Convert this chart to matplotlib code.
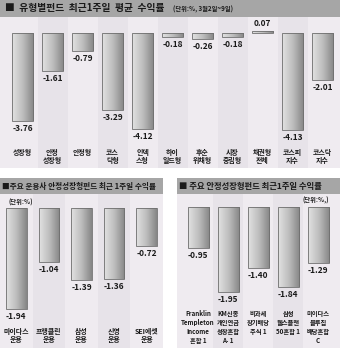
import numpy as np
import matplotlib
matplotlib.use("Agg")
import matplotlib.pyplot as plt

plt.rcParams['font.family'] = ['Noto Sans CJK KR', 'DejaVu Sans']

# ---------------------------------------------------------------
# data
# ---------------------------------------------------------------
type_labels = ["성장형", "안정\n성장형", "안정형", "코스\n닥형", "인덱\n스형", "하이\n일드형",
               "후순\n위채형", "시장\n중립형", "채권형\n전체", "코스피\n지수", "코스닥\n지수"]
type_values = [-3.76, -1.61, -0.79, -3.29, -4.12, -0.18, -0.26, -0.18, 0.07, -4.13, -2.01]

company_labels = ["마이다스\n운용", "프랭클린\n운용", "삼성\n운용", "신영\n운용", "SEI에셋\n운용"]
company_values = [-1.94, -1.04, -1.39, -1.36, -0.72]

fund_labels = ["Franklin\nTempleton\nIncome\n혼합 1", "KM신종\n개인연금\n성장혼합\nA- 1",
               "비과세\n장기배당\n주식 1", "삼성\n웰스플랜\n50혼합 1", "미이다스\n블루칩\n배당혼합\nC"]
fund_values = [-0.95, -1.95, -1.40, -1.84, -1.29]

W, H = 340, 348
HEADER = "#a6a6a6"
STRIPES = ["#efebf0", "#e7e3e9"]
TXT = "#1a1a1a"

fig = plt.figure(figsize=(W / 100, H / 100), dpi=100)
fig.patch.set_facecolor("white")


def px_axes(x0, y0, x1, y1):
    # pixel box (top-left origin) -> figure axes
    return fig.add_axes([x0 / W, 1 - y1 / H, (x1 - x0) / W, (y1 - y0) / H])


def header(x0, y0, x1, y1, title, size):
    hx = px_axes(x0, y0, x1, y1)
    hx.set_facecolor(HEADER)
    hx.set_xticks([])
    hx.set_yticks([])
    for s in hx.spines.values():
        s.set_visible(False)
    hx.text(0.015, 0.5, title, transform=hx.transAxes, va="center", ha="left",
            fontsize=size, fontweight="bold", color=TXT)
    return hx


grad = np.linspace(0, 1, 64).reshape(1, -1)
gray_cmap = matplotlib.colors.LinearSegmentedColormap.from_list("g", ["#e2e2e2", "#bdbdbd", "#868686"])


def panel(ax, values, labels, xlim, ylim, width, label_y, lab_size, lab_spacing):
    n = len(values)
    x = np.arange(n)
    ax.set_xlim(*xlim)
    ax.set_ylim(*ylim)
    # column stripes
    edges = [xlim[0]] + [i + 0.5 for i in range(n - 1)] + [xlim[1]]
    for i in range(n):
        ax.axvspan(edges[i], edges[i + 1], color=STRIPES[i % 2], lw=0, zorder=0)
    bars = ax.bar(x, values, width=width, color="none", edgecolor="#6e6e6e", lw=0.6, zorder=3)
    for b, v in zip(bars, values):
        bx, by = b.get_x(), b.get_y()
        bw, bh = b.get_width(), b.get_height()
        im = ax.imshow(grad, cmap=gray_cmap, aspect="auto", zorder=2,
                       extent=[bx, bx + bw, min(by, by + bh), max(by, by + bh)])
        im.set_clip_path(b)
        span = ylim[1] - ylim[0]
        if v < 0:
            ax.text(b.get_x() + bw / 2, v - span * 0.02, f"{v:.2f}", ha="center", va="top",
                    fontsize=6, fontweight="bold", color=TXT, zorder=4)
        else:
            ax.text(b.get_x() + bw / 2, v + span * 0.02, f"{v:.2f}", ha="center", va="bottom",
                    fontsize=6, fontweight="bold", color=TXT, zorder=4)
    for xi, lab in zip(x, labels):
        ax.text(xi, label_y, lab, ha="center", va="top", fontsize=lab_size,
                fontweight="bold", color=TXT, linespacing=lab_spacing, zorder=4)
    ax.set_xlim(*xlim)
    ax.set_ylim(*ylim)
    ax.set_xticks([])
    ax.set_yticks([])
    for s in ax.spines.values():
        s.set_visible(False)


# ---------------------------------------------------------------
# top panel
# ---------------------------------------------------------------
hx = header(0, 0, 340, 17, "■  유형별펀드  최근1주일  평균  수익률", 7)
hx.text(0.51, 0.45, "(단위:%, 3월2일~9일)", transform=hx.transAxes, va="center", ha="left",
        fontsize=4.5, fontweight="bold", color=TXT)

ax1 = px_axes(0, 17, 340, 168)
panel(ax1, type_values, type_labels, (-0.75, 10.583), (-5.77, 0.68), 0.7, -4.96, 5, 1.15)

# ---------------------------------------------------------------
# bottom left panel
# ---------------------------------------------------------------
header(0, 178, 163, 194, "■주요 운용사 안정성장형펀드 최근 1주일 수익률", 5.5)
ax2 = px_axes(0, 194, 163, 348)
panel(ax2, company_values, company_labels, (-0.5, 4.5), (-2.69, 0.27), 0.63, -2.3, 5, 1.2)
ax2.text(0.05, 0.97, "(단위:%)", transform=ax2.transAxes, ha="left", va="top",
         fontsize=4.5, fontweight="bold", color=TXT)

# ---------------------------------------------------------------
# bottom right panel
# ---------------------------------------------------------------
header(177, 178, 340, 194, "■ 주요 안정성장형펀드 최근1주일 수익률", 6)
ax3 = px_axes(177, 194, 340, 348)
panel(ax3, fund_values, fund_labels, (-0.7, 4.73), (-3.24, 0.3), 0.7, -2.36, 4.5, 1.35)
ax3.text(0.93, 0.985, "(단위:%,)", transform=ax3.transAxes, ha="right", va="top",
         fontsize=4.5, fontweight="bold", color=TXT)

fig.savefig("out.png", dpi=100)
